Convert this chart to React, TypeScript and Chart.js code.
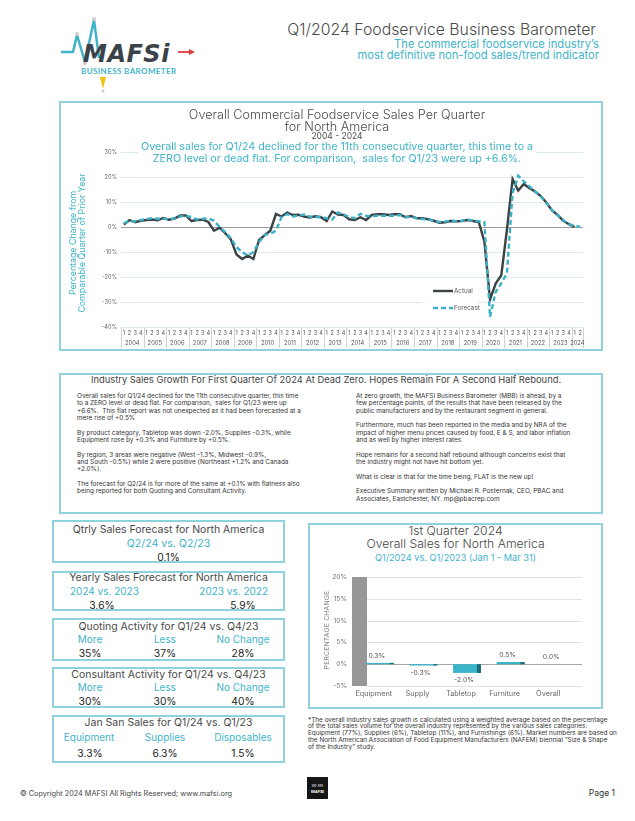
import React, { useEffect, useRef } from 'react';
import { Chart, registerables } from 'chart.js';

Chart.register(...registerables);

const FONT = 'Inter, "Open Sans", sans-serif';
const TEAL = '#3fb4c9';
const BORDER = '#8fd1dc';
const GRAY = '#4a4a4a';

// ---------- Main line chart data ----------
const years = ['2004', '2005', '2006', '2007', '2008', '2009', '2010', '2011', '2012', '2013', '2014', '2015', '2016', '2017', '2018', '2019', '2020', '2021', '2022', '2023', '2024'];
const quarterLabels = years.flatMap((y, i) => (i === years.length - 1 ? ['1', '2'] : ['1', '2', '3', '4']));

const actualSales = [
  1.0, 2.8, 1.9, 2.5,
  2.8, 3.0, 2.7, 3.6,
  2.9, 3.4, 4.6, 4.6,
  2.4, 2.8, 2.9, 2.0,
  -1.5, -0.3, -2.5, -5.0,
  -11.0, -12.8, -11.5, -12.8,
  -5.2, -3.3, -1.5, 5.2,
  4.2, 5.8, 4.8, 4.9,
  4.2, 3.8, 4.3, 3.9,
  2.4, 6.2, 5.0, 4.8,
  3.1, 2.8, 3.9, 2.8,
  4.8, 5.1, 5.1, 4.8,
  5.1, 5.1, 3.9, 4.4,
  3.5, 3.5, 3.1, 2.5,
  1.7, 1.9, 2.4, 2.3,
  2.4, 2.8, 2.4, 2.0,
  -5.9, -29.0, -22.6, -19.3,
  -1.0, 19.1, 14.6, 17.2,
  15.5, 14.2, 12.4, 9.8,
  6.6, 4.8, 2.5, 1.1,
  0.0,
];

const forecastSales = [
  1.5, 2.5, 2.2, 2.8,
  3.2, 3.5, 3.3, 3.3,
  3.0, 3.5, 4.2, 4.5,
  4.0, 3.0, 3.3, 3.5,
  2.5, 0.0, -2.0, -4.5,
  -8.0, -10.0, -11.5, -10.0,
  -6.0, -3.2, -2.7, -1.5,
  4.0, 5.2, 4.2, 4.5,
  5.0, 4.2, 4.0, 4.0,
  3.5, 3.0, 5.8, 5.0,
  4.0, 3.5, 5.3, 4.5,
  4.3, 4.5, 4.5, 4.5,
  4.5, 4.8, 4.0, 4.0,
  3.5, 3.2, 3.0, 2.5,
  2.0, 2.2, 2.5, 2.3,
  2.5, 3.0, 2.5, 2.3,
  2.0, -36.0, -26.0, -22.5,
  -18.5, 13.5, 20.5, 18.2,
  16.2, 14.2, 12.2, 9.5,
  6.8, 4.8, 2.8, 1.2,
  0.4, 0.1,
];

const lineYMin = -40;
const lineYMax = 30;
const lineYStep = 10;

// ---------- Bar chart data ----------
const barCategories = ['Equipment', 'Supply', 'Tabletop', 'Furniture', 'Overall'];
const barValues = [0.3, -0.3, -2.0, 0.5, 0.0];
const barLabels = ['0.3%', '-0.3%', '-2.0%', '0.5%', '0.0%'];
const barYMin = -5;
const barYMax = 20;
const barYStep = 5;

// ---------- helpers ----------
type TProps = {
  x: number;
  y: number;
  size: number;
  color?: string;
  align?: 'left' | 'center' | 'right';
  weight?: number | string;
  family?: string;
  style?: React.CSSProperties;
  children: React.ReactNode;
};

function T({ x, y, size, color = GRAY, align = 'left', weight = 400, family = FONT, style, children }: TProps) {
  const w = 600;
  const lh = Math.ceil(size * 1.4);
  const left = align === 'left' ? x : align === 'center' ? x - w / 2 : x - w;
  return (
    <div
      style={{
        position: 'absolute',
        left,
        top: y - lh / 2,
        width: w,
        height: lh,
        lineHeight: lh + 'px',
        fontSize: size,
        fontFamily: family,
        color,
        fontWeight: weight as any,
        textAlign: align,
        whiteSpace: 'nowrap',
        ...style,
      }}
    >
      {children}
    </div>
  );
}

function Box({ x, y, w, h }: { x: number; y: number; w: number; h: number }) {
  return (
    <div
      style={{
        position: 'absolute',
        left: x,
        top: y,
        width: w,
        height: h,
        border: `2px solid ${BORDER}`,
        boxSizing: 'border-box',
      }}
    />
  );
}

// ---------- Main line chart ----------
function SalesChart() {
  const ref = useRef<HTMLCanvasElement>(null);
  useEffect(() => {
    if (!ref.current) return;

    const yearAxisPlugin = {
      id: 'yearAxis',
      afterDraw(chart: any) {
        const { ctx, chartArea, scales } = chart;
        const x = scales.x;
        const slot = x.getPixelForValue(1) - x.getPixelForValue(0);
        ctx.save();
        ctx.strokeStyle = '#c6c6c6';
        ctx.lineWidth = 0.8;
        ctx.fillStyle = '#555';
        ctx.font = `5.8px ${FONT}`;
        ctx.textAlign = 'center';
        ctx.textBaseline = 'middle';
        const drawSep = (px: number) => {
          ctx.beginPath();
          ctx.moveTo(Math.round(px) + 0.5, chartArea.bottom + 1);
          ctx.lineTo(Math.round(px) + 0.5, chartArea.bottom + 22);
          ctx.stroke();
        };
        years.forEach((yr, i) => {
          const first = i * 4;
          const last = Math.min(first + 3, quarterLabels.length - 1);
          const left = x.getPixelForValue(first) - slot / 2;
          const right = x.getPixelForValue(last) + slot / 2;
          drawSep(left);
          if (i === years.length - 1) drawSep(right);
          ctx.fillText(yr, (left + right) / 2, chartArea.bottom + 16.5);
        });
        ctx.restore();
      },
    };

    const insideLegendPlugin = {
      id: 'insideLegend',
      beforeDatasetsDraw(chart: any) {
        const { ctx, chartArea: a } = chart;
        ctx.save();
        ctx.fillStyle = '#ffffff';
        ctx.fillRect(a.left + 301, a.top + 129, 56, 33);
        ctx.restore();
      },
      afterDatasetsDraw(chart: any) {
        const { ctx, chartArea: a } = chart;
        const ds = chart.data.datasets;
        const x0 = a.left + 312;
        const rows = [a.top + 139, a.top + 156];
        ctx.save();
        ds.forEach((d: any, i: number) => {
          const y = rows[i];
          ctx.beginPath();
          ctx.strokeStyle = d.borderColor;
          ctx.lineWidth = d.borderWidth;
          ctx.setLineDash(d.borderDash || []);
          ctx.moveTo(x0, y);
          ctx.lineTo(x0 + 20, y);
          ctx.stroke();
          ctx.setLineDash([]);
          ctx.fillStyle = '#555';
          ctx.font = `6.3px ${FONT}`;
          ctx.textAlign = 'left';
          ctx.textBaseline = 'middle';
          ctx.fillText(d.label, x0 + 21, y);
        });
        ctx.restore();
      },
    };

    const chart = new Chart(ref.current, {
      type: 'line',
      data: {
        labels: quarterLabels,
        datasets: [
          {
            label: 'Actual',
            data: actualSales,
            borderColor: '#3c4245',
            borderWidth: 2.4,
            pointRadius: 0,
            tension: 0,
            order: 2,
          },
          {
            label: 'Forecast',
            data: forecastSales,
            borderColor: '#3ab2c6',
            borderWidth: 2.4,
            borderDash: [5, 3],
            pointRadius: 0,
            tension: 0,
            order: 1,
          },
        ],
      },
      options: {
        responsive: false,
        animation: false,
        layout: { padding: { top: 49, right: 18, left: 0, bottom: 0 } },
        plugins: {
          legend: { display: false },
          tooltip: { enabled: false },
          title: { display: false },
        },
        scales: {
          x: {
            type: 'category',
            offset: true,
            grid: { display: false, drawTicks: false },
            border: { display: false },
            ticks: {
              autoSkip: false,
              maxRotation: 0,
              minRotation: 0,
              padding: 3,
              color: '#555',
              font: { family: FONT, size: 5.5 },
            },
            afterFit: (s: any) => {
              s.height = 21;
            },
          },
          y: {
            min: lineYMin,
            max: lineYMax,
            ticks: {
              stepSize: lineYStep,
              padding: 4,
              color: '#666',
              font: { family: FONT, size: 5.6 },
              callback: (v: any) => v + '%',
            },
            grid: {
              drawTicks: false,
              color: (c: any) => (c.tick && c.tick.value === 0 ? '#9c9c9c' : '#dde9ee'),
              lineWidth: 1,
            },
            border: { display: false },
            afterFit: (s: any) => {
              s.width = 60;
            },
          },
        },
      } as any,
      plugins: [yearAxisPlugin, insideLegendPlugin],
    });
    return () => chart.destroy();
  }, []);
  return (
    <canvas
      ref={ref}
      width={540}
      height={245}
      style={{ position: 'absolute', left: 61, top: 103, width: 540, height: 245 }}
    />
  );
}

// ---------- Bar chart ----------
function BarChart() {
  const ref = useRef<HTMLCanvasElement>(null);
  useEffect(() => {
    if (!ref.current) return;
    const decorPlugin = {
      id: 'barDecor',
      beforeDatasetsDraw(chart: any) {
        const { ctx, chartArea: a, scales } = chart;
        const y = scales.y;
        ctx.save();
        y.ticks.forEach((t: any) => {
          const py = Math.round(y.getPixelForValue(t.value)) + 0.5;
          ctx.beginPath();
          ctx.strokeStyle = t.value === 0 ? '#a8a8a8' : '#e2e2e2';
          ctx.lineWidth = 1;
          ctx.moveTo(a.left + 9, py);
          ctx.lineTo(a.right + 6, py);
          ctx.stroke();
        });
        ctx.fillStyle = '#979797';
        ctx.fillRect(a.left - 6, a.top, 15, a.bottom - a.top);
        ctx.restore();
      },
      afterDatasetsDraw(chart: any) {
        const { ctx } = chart;
        const meta = chart.getDatasetMeta(0);
        ctx.save();
        meta.data.forEach((bar: any, i: number) => {
          const { x, y, base, width } = bar.getProps(['x', 'y', 'base', 'width'], true);
          const top = Math.min(y, base);
          const h = Math.abs(base - y);
          if (h >= 0.5) {
            ctx.fillStyle = '#1e6c7b';
            ctx.fillRect(x + width / 2 - 4, top, 4, h);
          }
          ctx.fillStyle = '#555';
          ctx.font = `6.8px ${FONT}`;
          ctx.textAlign = 'center';
          ctx.textBaseline = 'middle';
          const v = barValues[i];
          const ly = v >= 0 ? y - 7 : y + 7;
          ctx.fillText(barLabels[i], x - 3, ly);
        });
        ctx.restore();
      },
    };
    const chart = new Chart(ref.current, {
      type: 'bar',
      data: {
        labels: barCategories,
        datasets: [
          {
            data: barValues,
            backgroundColor: '#3ab4c8',
            barPercentage: 0.64,
            categoryPercentage: 1,
          },
        ],
      },
      options: {
        responsive: false,
        animation: false,
        layout: { padding: { top: 15, right: 25, left: 0, bottom: 0 } },
        plugins: { legend: { display: false }, tooltip: { enabled: false } },
        scales: {
          x: {
            grid: { display: false, drawTicks: false },
            border: { display: false },
            ticks: {
              autoSkip: false,
              maxRotation: 0,
              minRotation: 0,
              labelOffset: -6,
              padding: 3,
              color: '#666',
              font: { family: FONT, size: 7.3 },
            },
            afterFit: (s: any) => {
              s.height = 20;
            },
          },
          y: {
            min: barYMin,
            max: barYMax,
            ticks: {
              stepSize: barYStep,
              padding: 11,
              color: '#777',
              font: { family: FONT, size: 6.7 },
              callback: (v: any) => v + '%',
            },
            grid: { display: false, drawTicks: false },
            border: { display: false },
            afterFit: (s: any) => {
              s.width = 48;
            },
          },
        },
      } as any,
      plugins: [decorPlugin],
    });
    return () => chart.destroy();
  }, []);
  return (
    <canvas
      ref={ref}
      width={291}
      height={144}
      style={{ position: 'absolute', left: 310, top: 562, width: 291, height: 144 }}
    />
  );
}

// ---------- Logo ----------
function Logo() {
  return (
    <>
      <svg style={{ position: 'absolute', left: 0, top: 0 }} width={200} height={100}>
        <polyline
          points="61,52 73,52 77,35 85,62 94,20 99,58"
          fill="none"
          stroke={TEAL}
          strokeWidth={2.5}
          strokeLinejoin="round"
        />
        <circle cx={77} cy={34} r={2} fill="#cccccc" />
        <circle cx={94} cy={19} r={2} fill="#cccccc" />
        <circle cx={85} cy={63} r={2} fill="#cccccc" />
        <line x1={178} y1={52} x2={190} y2={52} stroke="#e2383f" strokeWidth={1.8} />
        <polygon points="189,49 195,52 189,55" fill="#e2383f" />
        <polygon points="100,77 106,77 103,89" fill="#f4c20d" />
        <circle cx={103} cy={91} r={1.5} fill="#cccccc" />
      </svg>
      <div
        style={{
          position: 'absolute',
          left: 83,
          top: 40,
          fontFamily: '"DejaVu Sans", sans-serif',
          fontWeight: 'bold',
          fontStyle: 'italic',
          fontSize: 24,
          letterSpacing: 0.5,
          color: '#3b4349',
          lineHeight: '28px',
          whiteSpace: 'nowrap',
        }}
      >
        MAFSi
      </div>
      <T x={81} y={71} size={8} color={TEAL} weight={700} family="Lato, sans-serif" style={{ letterSpacing: 0.4 }}>
        BUSINESS BAROMETER
      </T>
    </>
  );
}

const leftColumn: string[][] = [
  [
    'Overall sales for Q1/24 declined for the 11th consecutive quarter, this time',
    'to a ZERO level or dead flat. For comparison,  sales for Q1/23 were up',
    '+6.6%.  This flat report was not unexpected as it had been forecasted at a',
    'mere rise of +0.5%',
  ],
  ['By product category, Tabletop was down -2.0%, Supplies -0.3%, while', 'Equipment rose by +0.3% and Furniture by +0.5%.'],
  [
    'By region, 3 areas were negative (West -1.3%, Midwest -0.9%,',
    'and South -0.5%) while 2 were positive (Northeast +1.2% and Canada',
    '+2.0%).',
  ],
  ['The forecast for Q2/24 is for more of the same at +0.1% with flatness also', 'being reported for both Quoting and Consultant Activity.'],
];

const rightColumn: string[][] = [
  [
    'At zero growth, the MAFSI Business Barometer (MBB) is ahead, by a',
    'few percentage points, of the results that have been released by the',
    'public manufacturers and by the restaurant segment in general.',
  ],
  [
    'Furthermore, much has been reported in the media and by NRA of the',
    'impact of higher menu prices caused by food, E & S, and labor inflation',
    'and as well by higher interest rates.',
  ],
  ['Hope remains for a second half rebound although concerns exist that', 'the industry might not have hit bottom yet.'],
  ['What is clear is that for the time being, FLAT is the new up!'],
  ['Executive Summary written by Michael R. Posternak, CEO, PBAC and', 'Associates, Eastchester, NY. mp@pbacrep.com'],
];

function Column({ x, y, paras }: { x: number; y: number; paras: string[][] }) {
  const lh = 7.33;
  return (
    <div
      style={{
        position: 'absolute',
        left: x,
        top: y,
        fontFamily: FONT,
        fontSize: 6.4,
        lineHeight: lh + 'px',
        color: '#333',
        whiteSpace: 'pre',
      }}
    >
      {paras.map((p, i) => (
        <div key={i} style={{ marginBottom: lh }}>
          {p.map((l, j) => (
            <div key={j}>{l}</div>
          ))}
        </div>
      ))}
    </div>
  );
}

const footnote = [
  '*The overall industry sales growth is calculated using a weighted average based on the percentage',
  'of the total sales volume for the overall industry represented by the various sales categories:',
  'Equipment (77%), Supplies (6%), Tabletop (11%), and Furnishings (6%). Market numbers are based on',
  'the North American Association of Food Equipment Manufacturers (NAFEM) biennial \u201CSize & Shape',
  'of the Industry\u201D study.',
];

export default function App() {
  return (
    <div
      style={{
        position: 'absolute',
        left: 0,
        top: 0,
        width: 635,
        height: 821,
        overflow: 'hidden',
        background: '#ffffff',
        fontFamily: FONT,
      }}
    >
      <Logo />
      <T x={596} y={29} size={15.8} align="right" color="#4b4b4b" weight={300}>
        Q1/2024 Foodservice Business Barometer
      </T>
      <T x={599} y={43.5} size={11.2} align="right" color={TEAL}>
        The commercial foodservice industry’s
      </T>
      <T x={599} y={55} size={11.2} align="right" color={TEAL}>
        most definitive non-food sales/trend indicator
      </T>

      {/* Main chart box */}
      <Box x={59} y={101} w={544} h={250} />
      <SalesChart />
      <T x={337} y={115} size={12.6} align="center" color="#4b4b4b" weight={300}>
        Overall Commercial Foodservice Sales Per Quarter
      </T>
      <T x={337} y={126.7} size={12.6} align="center" color="#4b4b4b" weight={300}>
        for North America
      </T>
      <T x={337} y={136.2} size={8.5} align="center" color="#4b4b4b">
        2004 - 2024
      </T>
      <T x={337} y={146.9} size={10.7} align="center" color={TEAL}>
        <span style={{ background: '#fff', padding: '0 3px' }}>
          Overall sales for Q1/24 declined for the 11th consecutive quarter, this time to a
        </span>
      </T>
      <T x={337} y={158.5} size={10.7} align="center" color={TEAL}>
        <span style={{ background: '#fff', padding: '0 3px' }}>
          ZERO level or dead flat. For comparison,&nbsp; sales for Q1/23 were up +6.6%.
        </span>
      </T>
      <div
        style={{
          position: 'absolute',
          left: 77 - 100,
          top: 243 - 9,
          width: 200,
          height: 18,
          transform: 'rotate(-90deg)',
          transformOrigin: '50% 50%',
          textAlign: 'center',
          fontFamily: FONT,
          fontSize: 8.8,
          lineHeight: '9px',
          color: TEAL,
          whiteSpace: 'nowrap',
        }}
      >
        Percentage Change from
        <br />
        Comparable Quarter of Prior Year
      </div>

      {/* Text box */}
      <Box x={59} y={373} w={544} h={141} />
      <T x={326} y={379.5} size={9.4} align="center" color="#444">
        Industry Sales Growth For First Quarter Of 2024 At Dead Zero. Hopes Remain For A Second Half Rebound.
      </T>
      <Column x={77} y={393} paras={leftColumn} />
      <Column x={356} y={393} paras={rightColumn} />

      {/* Left stat boxes */}
      <Box x={52} y={520} w={233} h={43} />
      <T x={168.5} y={529} size={10.5} align="center">Qtrly Sales Forecast for North America</T>
      <T x={168.5} y={543} size={10.6} align="center" color={TEAL}>Q2/24 vs. Q2/23</T>
      <T x={168.5} y={557} size={10.3} align="center" color="#222">0.1%</T>

      <Box x={52} y={571} w={233} h={40} />
      <T x={168.5} y={577} size={10.5} align="center">Yearly Sales Forecast for North America</T>
      <T x={70} y={591} size={10} color={TEAL}>2024 vs. 2023</T>
      <T x={268} y={591} size={10} align="right" color={TEAL}>2023 vs. 2022</T>
      <T x={102} y={605} size={10.3} align="center" color="#222">3.6%</T>
      <T x={243} y={605} size={10.3} align="center" color="#222">5.9%</T>

      <Box x={52} y={618} w={233} h={43} />
      <T x={168.5} y={626} size={10.5} align="center">Quoting Activity for Q1/24 vs. Q4/23</T>
      <T x={90} y={639} size={10} align="center" color={TEAL}>More</T>
      <T x={165} y={639} size={10} align="center" color={TEAL}>Less</T>
      <T x={243} y={639} size={10} align="center" color={TEAL}>No Change</T>
      <T x={90} y={653} size={10.3} align="center" color="#222">35%</T>
      <T x={165} y={653} size={10.3} align="center" color="#222">37%</T>
      <T x={243} y={653} size={10.3} align="center" color="#222">28%</T>

      <Box x={52} y={667} w={233} h={41} />
      <T x={168.5} y={674} size={10.5} align="center">Consultant Activity for Q1/24 vs. Q4/23</T>
      <T x={90} y={687} size={10} align="center" color={TEAL}>More</T>
      <T x={165} y={687} size={10} align="center" color={TEAL}>Less</T>
      <T x={243} y={687} size={10} align="center" color={TEAL}>No Change</T>
      <T x={90} y={701} size={10.3} align="center" color="#222">30%</T>
      <T x={165} y={701} size={10.3} align="center" color="#222">30%</T>
      <T x={243} y={701} size={10.3} align="center" color="#222">40%</T>

      <Box x={52} y={715} w={233} h={48} />
      <T x={168.5} y={722} size={10.5} align="center">Jan San Sales for Q1/24 vs. Q1/23</T>
      <T x={89} y={737} size={10} align="center" color={TEAL}>Equipment</T>
      <T x={165} y={737} size={10} align="center" color={TEAL}>Supplies</T>
      <T x={243} y={737} size={10} align="center" color={TEAL}>Disposables</T>
      <T x={90} y={753} size={10.3} align="center" color="#222">3.3%</T>
      <T x={165} y={753} size={10.3} align="center" color="#222">6.3%</T>
      <T x={243} y={753} size={10.3} align="center" color="#222">1.5%</T>

      {/* Bar chart box */}
      <Box x={308} y={523} w={295} h={186} />
      <T x={455.5} y={531} size={12.2} align="center" color="#444" weight={300}>1st Quarter 2024</T>
      <T x={455.5} y={543.5} size={12.2} align="center" color="#444" weight={300}>Overall Sales for North America</T>
      <T x={455.5} y={557.7} size={9.2} align="center" color={TEAL}>Q1/2024 vs. Q1/2023 (Jan 1 - Mar 31)</T>
      <BarChart />
      <div
        style={{
          position: 'absolute',
          left: 327 - 60,
          top: 630 - 6,
          width: 120,
          height: 12,
          lineHeight: '12px',
          transform: 'rotate(-90deg)',
          transformOrigin: '50% 50%',
          textAlign: 'center',
          fontFamily: FONT,
          fontSize: 6.8,
          letterSpacing: 0.2,
          color: '#7a7a7a',
          whiteSpace: 'nowrap',
        }}
      >
        PERCENTAGE CHANGE
      </div>

      {/* Footnote */}
      <div
        style={{
          position: 'absolute',
          left: 308,
          top: 716.5,
          fontFamily: FONT,
          fontSize: 6.4,
          lineHeight: '6.9px',
          color: '#333',
          whiteSpace: 'nowrap',
        }}
      >
        {footnote.map((l, i) => (
          <div key={i}>{l}</div>
        ))}
      </div>

      {/* Footer */}
      <T x={20} y={793} size={7.3} color="#444">© Copyright 2024 MAFSI All Rights Reserved; www.mafsi.org</T>
      <div
        style={{
          position: 'absolute',
          left: 307,
          top: 777,
          width: 21,
          height: 22,
          background: '#151515',
          color: '#fff',
          fontFamily: FONT,
          textAlign: 'center',
          lineHeight: '5px',
        }}
      >
        <div style={{ fontSize: 3, marginTop: 7 }}>WE ARE</div>
        <div style={{ fontSize: 4, fontWeight: 700 }}>MAFSI</div>
      </div>
      <T x={615} y={793} size={8.5} align="right" color="#333">Page 1</T>
    </div>
  );
}
